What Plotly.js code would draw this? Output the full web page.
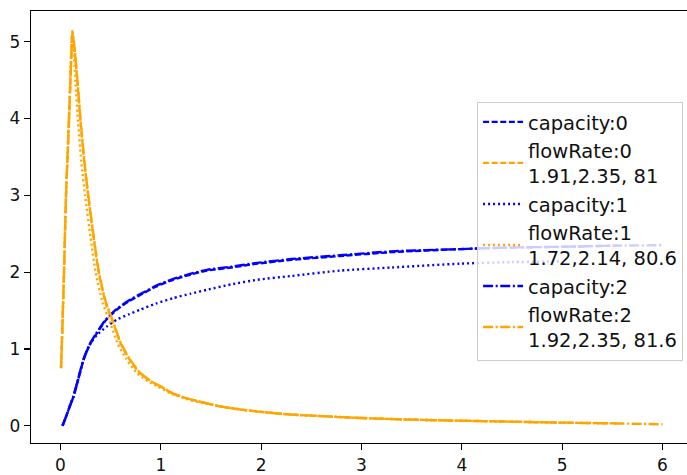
<!DOCTYPE html>
<html>
<head>
<meta charset="utf-8">
<script src="https://cdn.plot.ly/plotly-3.0.1.min.js"></script>
<style>html,body{margin:0;padding:0;background:#fff}#chart{width:687px;height:475px}</style>
</head>
<body>
<div id="chart"></div>
<script>
// flowRate series
const flowX0 = [0.005, 0.012, 0.035, 0.055, 0.085, 0.105, 0.118, 0.14, 0.17, 0.20, 0.24, 0.28, 0.33, 0.38, 0.45, 0.52, 0.60, 0.68, 0.78, 0.90, 1.0, 1.12, 1.25, 1.4, 1.6, 1.8, 2.0, 2.3, 2.6, 3.0, 3.4, 3.8, 4.2, 4.6, 5.0, 5.3, 5.55];
const flowY0 = [0.75, 1.0, 2.0, 3.0, 4.0, 4.7, 5.14, 4.9, 4.45, 3.95, 3.4, 2.95, 2.45, 2.0, 1.6, 1.36, 1.07, 0.88, 0.70, 0.58, 0.51, 0.42, 0.36, 0.31, 0.25, 0.21, 0.18, 0.145, 0.125, 0.10, 0.083, 0.07, 0.06, 0.05, 0.04, 0.035, 0.03];
const flowX1 = [0.005, 0.012, 0.035, 0.055, 0.085, 0.102, 0.115, 0.13, 0.15, 0.175, 0.21, 0.25, 0.30, 0.35, 0.42, 0.49, 0.57, 0.65, 0.75, 0.87, 0.97, 1.1, 1.25, 1.4, 1.6, 1.8, 2.0, 2.3, 2.6, 3.0, 3.4, 3.8, 4.2, 4.6, 5.0];
const flowY1 = [0.75, 1.0, 2.0, 3.0, 4.0, 4.7, 5.1, 4.9, 4.45, 3.95, 3.4, 2.95, 2.45, 2.0, 1.6, 1.36, 1.07, 0.88, 0.70, 0.58, 0.51, 0.42, 0.35, 0.30, 0.25, 0.21, 0.18, 0.145, 0.125, 0.10, 0.083, 0.07, 0.06, 0.05, 0.04];
const flowX2 = [0.005, 0.012, 0.035, 0.055, 0.085, 0.105, 0.12, 0.14, 0.17, 0.20, 0.24, 0.28, 0.33, 0.38, 0.45, 0.52, 0.60, 0.68, 0.78, 0.90, 1.0, 1.12, 1.25, 1.4, 1.6, 1.8, 2.0, 2.3, 2.6, 3.0, 3.4, 3.8, 4.2, 4.6, 5.0, 5.4, 5.8, 6.0];
const flowY2 = [0.75, 1.0, 2.0, 3.0, 4.0, 4.72, 5.12, 4.92, 4.48, 3.98, 3.42, 2.97, 2.47, 2.02, 1.62, 1.37, 1.08, 0.89, 0.71, 0.58, 0.51, 0.42, 0.36, 0.31, 0.25, 0.21, 0.18, 0.145, 0.125, 0.10, 0.083, 0.07, 0.06, 0.05, 0.04, 0.032, 0.024, 0.018];

// capacity series
const capX0 = [0.02, 0.05, 0.1, 0.13, 0.18, 0.23, 0.29, 0.36, 0.45, 0.56, 0.68, 0.79, 0.95, 1.12, 1.3, 1.46, 1.7, 1.96, 2.3, 2.79, 3.3, 3.98, 4.5, 5.0, 5.55];
const capY0 = [0.0, 0.1, 0.28, 0.38, 0.62, 0.86, 1.05, 1.20, 1.37, 1.51, 1.62, 1.70, 1.81, 1.90, 1.97, 2.02, 2.06, 2.11, 2.16, 2.21, 2.26, 2.30, 2.32, 2.33, 2.345];
const capX1 = [0.02, 0.05, 0.1, 0.13, 0.18, 0.23, 0.29, 0.36, 0.46, 0.56, 0.68, 0.79, 0.95, 1.12, 1.3, 1.46, 1.7, 1.96, 2.3, 2.79, 3.3, 3.98, 4.5, 5.0];
const capY1 = [0.0, 0.1, 0.28, 0.38, 0.62, 0.86, 1.05, 1.18, 1.29, 1.38, 1.45, 1.51, 1.59, 1.66, 1.72, 1.77, 1.84, 1.90, 1.95, 2.02, 2.06, 2.11, 2.13, 2.14];
const capX2 = [0.02, 0.05, 0.1, 0.13, 0.18, 0.23, 0.29, 0.36, 0.45, 0.56, 0.68, 0.79, 0.95, 1.12, 1.3, 1.46, 1.7, 1.96, 2.3, 2.79, 3.3, 3.98, 4.5, 5.0, 5.55, 6.0];
const capY2 = [0.0, 0.1, 0.28, 0.39, 0.63, 0.87, 1.06, 1.21, 1.38, 1.52, 1.63, 1.71, 1.82, 1.91, 1.98, 2.03, 2.07, 2.12, 2.17, 2.22, 2.27, 2.30, 2.32, 2.33, 2.345, 2.35];

const legendNames = ["capacity:0", "flowRate:0<br>1.91,2.35, 81", "capacity:1", "flowRate:1<br>1.72,2.14, 80.6", "capacity:2", "flowRate:2<br>1.92,2.35, 81.6"];
const xTicks = [0, 1, 2, 3, 4, 5, 6];
const yTicks = [0, 1, 2, 3, 4, 5];

const BLUE = "#0000ff", ORANGE = "#ffa500";
const DASH = "6px,2.6px", DOT = "2px,3px", DASHDOT = "10px,2.6px,2px,2.6px";

const series = [
  [capX0, capY0, BLUE, DASH],
  [flowX0, flowY0, ORANGE, DASH],
  [capX1, capY1, BLUE, DOT],
  [flowX1, flowY1, ORANGE, DOT],
  [capX2, capY2, BLUE, DASHDOT],
  [flowX2, flowY2, ORANGE, DASHDOT]
];
const traces = series.map((s, i) => ({
  x: s[0], y: s[1], name: legendNames[i], type: "scatter", mode: "lines",
  line: {color: s[2], dash: s[3], width: 2.4, shape: "spline", smoothing: 0.6}
}));

const font = {family: "DejaVu Sans, sans-serif", size: 17, color: "#111"};
const layout = {
  width: 687, height: 475,
  margin: {l: 31, r: 0, t: 11, b: 32, pad: 0},
  paper_bgcolor: "#fff", plot_bgcolor: "#fff",
  font: font,
  showlegend: true,
  xaxis: {range: [-0.294, 6.244], tickvals: xTicks, ticktext: xTicks.map(String),
    showgrid: false, zeroline: false, showline: true, mirror: true, linecolor: "#000", linewidth: 1.2,
    ticks: "outside", ticklen: 6, tickcolor: "#000", tickwidth: 1.2, tickfont: font},
  yaxis: {range: [-0.225, 5.40], tickvals: yTicks, ticktext: yTicks.map(String),
    showgrid: false, zeroline: false, showline: true, mirror: false, linecolor: "#000", linewidth: 1.2,
    ticks: "outside", ticklen: 6, tickcolor: "#000", tickwidth: 1.2, tickfont: font},
  legend: {x: 0.994, y: 0.79, xanchor: "right", yanchor: "top",
    bgcolor: "rgba(255,255,255,0.8)", bordercolor: "#cccccc", borderwidth: 1, itemwidth: 40,
    font: {family: "DejaVu Sans, sans-serif", size: 19.5, color: "#111"}, tracegroupgap: 0}
};
Plotly.newPlot("chart", traces, layout, {displayModeBar: false, staticPlot: true});
</script>
</body>
</html>
